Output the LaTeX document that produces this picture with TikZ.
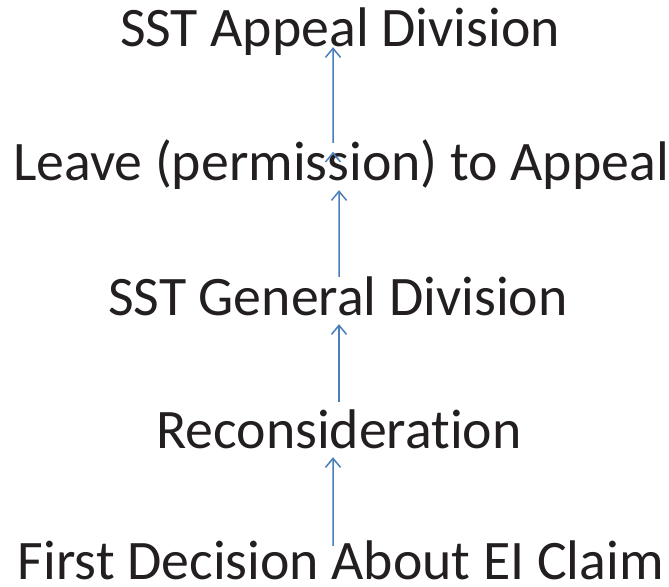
\documentclass[tikz,border=0pt]{standalone}
\usepackage{fontspec}
\setmainfont{Carlito}[Ligatures={NoCommon}]
\usepackage{tikz}
\usetikzlibrary{arrows.meta}

\definecolor{linkblue}{RGB}{74,126,187}
\definecolor{inkgray}{RGB}{35,31,32}

\begin{document}
\begin{tikzpicture}[x=1bp,y=-1bp,->,>={Straight Barb[length=9bp,width=15bp]},
	shorten >=9bp,
	level node/.style={anchor=base,inner sep=0pt,text height=38bp,text depth=0pt,
		text=inkgray,font=\fontsize{56}{62}\selectfont},
	link/.style={draw=linkblue,line width=1.5bp}]
	\useasboundingbox (0,0) rectangle (669,587);
	
	\node[level node] (claim) at (341,579) {First Decision About EI Claim};
	\node[level node] (recon) at (339,448) {Reconsideration};
	\node[level node] (general) at (338,315) {SST General Division};
	\node[level node] (leave) at (341,181) {Leave (permission) to Appeal};
	\node[level node] (appeal) at (340,47) {SST Appeal Division};
	
	\path[link]
	([xshift=-8bp,yshift=-5bp]claim.north) edge ([xshift=-6bp]recon.south)
	([xshift=0bp,yshift=8bp]recon.north) edge ([xshift=1bp]general.south)
	([xshift=1bp]general.north) edge ([xshift=-2bp]leave.south)
	([xshift=-8bp]leave.north) edge[shorten >=0bp] ([xshift=-7bp]appeal.south);
\end{tikzpicture}
\end{document}
